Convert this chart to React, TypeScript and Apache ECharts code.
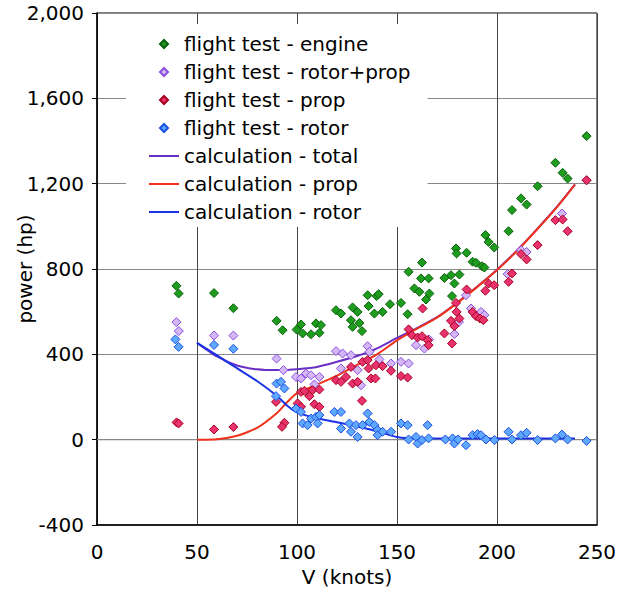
import React, { useEffect, useRef } from "react";
import * as echarts from "echarts";

// [V (knots), power (hp)]
const engine: number[][] = [
  [39.7, 721], [40.8, 685], [58.5, 687], [68.2, 616],
  [89.8, 557], [92.8, 513], [99.8, 516], [102, 540], [102.8, 498], [107, 494], [109.5, 545], [111.2, 501], [112, 537],
  [119.5, 607], [122, 591], [127.8, 620], [130.3, 599], [127, 560], [127.8, 529], [131.2, 547], [132.5, 509],
  [135.3, 677], [135.8, 626], [139.8, 673], [138.7, 591], [140.8, 682],
  [142.8, 599], [146.5, 635], [152, 641], [155.3, 588], [155.8, 787], [162.5, 830], [162, 756], [165.8, 756],
  [158.7, 709], [161.2, 693], [166.2, 685], [164.5, 657],
  [173.7, 758], [177, 771], [181.2, 774], [178.7, 732], [177.5, 673], [179.5, 896], [179.8, 873], [184.8, 876],
  [187.8, 834], [189.5, 829], [192.5, 813], [193.7, 807], [194.2, 959], [195.8, 927], [198.6, 901],
  [205.8, 977], [207.5, 1076], [212, 1131], [214.8, 1102], [220.3, 1188], [229.2, 1298], [232.8, 1251],
  [235.3, 1224], [244.8, 1423],
];

const rotorProp: number[][] = [
  [39.7, 551], [40.9, 509], [58.5, 488], [68.2, 488],
  [89.8, 380], [93.2, 326], [99.5, 294], [102, 287], [104.5, 310], [107, 302], [111.2, 294], [108.7, 259],
  [119.5, 415], [122.8, 404], [127, 396], [122, 334], [130.3, 326], [135.3, 438], [136.2, 412], [132, 255],
  [141.2, 376], [147, 357], [152, 365], [155.8, 357], [159.5, 443], [163.7, 427], [166, 470],
  [178.7, 495], [181, 552], [184.5, 677], [187, 615], [192, 599], [193.7, 584],
  [205.3, 776], [212, 888], [214.8, 880], [232.5, 1060], [244.8, 1216],
];

const prop: number[][] = [
  [39.8, 81], [40.8, 76], [58.5, 48], [68.2, 59],
  [89.5, 177], [93.7, 79], [92.5, 60], [102, 224], [103.7, 229], [106.2, 204], [107.8, 232], [111.2, 235],
  [100.3, 170], [102, 154], [108.7, 166], [111.2, 154],
  [119.5, 279], [122, 271], [124.5, 294], [127, 341], [127.8, 263], [130.3, 271], [132.5, 182], [132.8, 365],
  [135.3, 373], [135.8, 334], [137, 287], [139.2, 287],
  [139.5, 349], [142.8, 345], [147, 323], [152, 298], [155.3, 291], [155.8, 517], [157.5, 490], [160.3, 479],
  [162.5, 485], [165.3, 466], [165.8, 443], [162.8, 615],
  [173.7, 498], [177.5, 451], [177, 557], [178.7, 532], [181.2, 568], [179.8, 599], [179.5, 641], [184.8, 704],
  [187.8, 599], [189.5, 579], [191.5, 568], [193.2, 560],
  [194.2, 698], [195.8, 732], [198.6, 724], [205.8, 740], [207.5, 779], [212, 870], [214.8, 845], [220.3, 912],
  [229.2, 1029], [232.8, 1032], [235.3, 977], [244.8, 1216],
];

const rotor: number[][] = [
  [39.2, 470], [40.8, 435], [58.5, 444], [68.2, 426],
  [89.8, 263], [92, 271], [93.7, 240], [89.5, 204], [99.5, 146], [102, 130], [102.8, 76], [105.3, 68], [107, 99],
  [109.5, 107], [111.2, 115], [110.3, 76],
  [118.7, 130], [122, 130], [122, 52], [126.2, 76], [127, 37], [130.3, 13], [129.5, 68], [132.8, 68], [135.3, 123],
  [136.2, 83], [138.7, 68], [140.3, 45],
  [140.3, 21], [142.8, 37], [147, 37], [152, 76], [155.3, 68], [155.8, 1], [159.5, 13], [160.3, -18], [162.5, -2],
  [165.3, 68], [165.8, 6],
  [174.2, 1], [177.8, 6], [178.7, -18], [180.5, 1], [184.5, -26], [187.8, 21], [190.3, 26],
  [192, 21], [194.5, 1], [198.7, -2], [205.8, 37], [207.5, 1], [212, 21], [214.8, 32], [220.3, -2], [229.2, 6],
  [232.5, 24], [235.3, 1], [244.8, -6],
];

const calcV = [50, 60, 70, 80, 90, 95, 100, 110, 120, 130, 140, 150, 160, 170, 180, 190, 200, 210, 220, 230, 239];
const calcTotal = [454, 390, 348, 330, 326, 327, 330, 341, 365, 392, 428, 477, 523, 574, 642, 717, 797, 887, 987, 1092, 1197];
const calcProp = [0, 2, 18, 55, 125, 175, 218, 258, 300, 350, 400, 465, 520, 572, 640, 715, 795, 885, 985, 1090, 1195];
const calcRotor = [454, 395, 335, 275, 205, 160, 128, 100, 82, 62, 40, 12, 5, 5, 5, 5, 5, 5, 5, 5, 5];

// zero reference gridline
const zeroLine: number[][] = [[0, 0], [250, 0]];

const FONT = '"DejaVu Sans", sans-serif';
const DIAMOND = "path://M5,0L10,5L5,10L0,5Z";

export default function App() {
  const ref = useRef<HTMLDivElement>(null);
  useEffect(() => {
    const chart = echarts.init(ref.current!, null, { renderer: "svg" });
    const scatter = (name: string, data: number[][], fill: string, border: string) => ({
      name,
      type: "scatter",
      data,
      symbol: "diamond",
      symbolSize: 9,
      z: 3,
      itemStyle: { color: fill, borderColor: border, borderWidth: 1, opacity: 1 },
    });
    const line = (name: string, ys: number[], color: string) => ({
      name,
      type: "line",
      data: calcV.map((v, i) => [v, ys[i]]),
      symbol: "none",
      smooth: 0.2,
      z: 2,
      lineStyle: { color, width: 2 },
      itemStyle: { color },
    });
    const hidden = { color: "rgba(0,0,0,0)", borderColor: "rgba(0,0,0,0)", borderWidth: 0, opacity: 0 };
    chart.setOption({
      animation: false,
      backgroundColor: "#fff",
      grid: {
        left: 97, right: 32, top: 13, bottom: 71,
        outerBoundsMode: "none",
        containLabel: false,
        show: true, borderColor: "#000", borderWidth: 1,
      },
      legend: {
        orient: "vertical",
        left: 126,
        top: 24,
        padding: [10, 17, 5, 22],
        backgroundColor: "#fff",
        itemWidth: 30,
        itemHeight: 8,
        itemGap: 8,
        symbolKeepAspect: true,
        textStyle: { fontFamily: FONT, fontSize: 20, color: "#000", lineHeight: 20 },
        data: [
          { name: "flight test - engine", icon: DIAMOND },
          { name: "flight test - rotor+prop", icon: DIAMOND },
          { name: "flight test - prop", icon: DIAMOND },
          { name: "flight test - rotor", icon: DIAMOND },
          { name: "calculation - total", itemStyle: hidden },
          { name: "calculation - prop", itemStyle: hidden },
          { name: "calculation - rotor", itemStyle: hidden },
        ],
      },
      xAxis: {
        type: "value",
        min: 0,
        max: 250,
        interval: 50,
        name: "V (knots)",
        nameLocation: "middle",
        nameGap: 42,
        nameMoveOverlap: false,
        nameTextStyle: { fontFamily: FONT, fontSize: 20, color: "#000" },
        axisLine: { show: true, onZero: false, lineStyle: { color: "#000", width: 1.5 } },
        axisTick: { show: false },
        axisLabel: { fontFamily: FONT, fontSize: 20, color: "#000", margin: 17 },
        splitLine: { show: true, lineStyle: { color: "#444", width: 1 } },
      },
      yAxis: {
        type: "value",
        min: -400,
        max: 2000,
        interval: 400,
        name: "power (hp)",
        nameLocation: "middle",
        nameGap: 62,
        nameMoveOverlap: false,
        nameTextStyle: { fontFamily: FONT, fontSize: 20, color: "#000" },
        axisLine: { show: true, onZero: false, lineStyle: { color: "#000", width: 1.5 } },
        axisTick: { show: true, inside: false, length: 5, lineStyle: { color: "#000" } },
        axisLabel: {
          fontFamily: FONT,
          fontSize: 20,
          color: "#000",
          margin: 13,
          formatter: (v: number) => v.toLocaleString("en-US"),
        },
        splitLine: { show: true, lineStyle: { color: "#888", width: 1.2 } },
      },
      series: [
        {
          name: "zero",
          type: "line",
          data: zeroLine,
          symbol: "none",
          silent: true,
          z: 1,
          lineStyle: { color: "#888", width: 1.2 },
          itemStyle: { color: "#888" },
        },
        scatter("flight test - engine", engine, "#1e9c1e", "#0a5f0a"),
        scatter("flight test - rotor+prop", rotorProp, "#d4b8f5", "#8a4ee0"),
        scatter("flight test - prop", prop, "#e8336e", "#a8001e"),
        scatter("flight test - rotor", rotor, "#5ea8ff", "#1d4fe0"),
        line("calculation - total", calcTotal, "#6a2fc4"),
        line("calculation - prop", calcProp, "#f0321a"),
        line("calculation - rotor", calcRotor, "#1a32e6"),
      ],
    });
    return () => chart.dispose();
  }, []);
  return <div ref={ref} style={{ position: "fixed", left: 0, top: 0, width: 629, height: 596 }} />;
}
